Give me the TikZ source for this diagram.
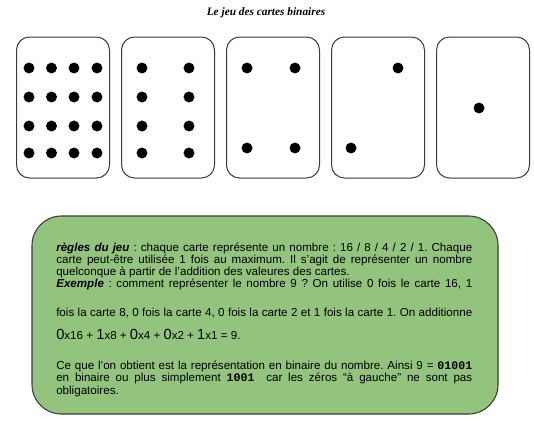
\documentclass[tikz,border=0pt]{standalone}
\usepackage{fontspec}
\setmainfont{Liberation Sans}
\setmonofont{Liberation Mono}
\newfontfamily\titrefont{Liberation Serif}
\usepackage{xcolor}
\usetikzlibrary{positioning}
\definecolor{vertcadre}{HTML}{93C47D}
\definecolor{grisbord}{HTML}{3A3A3A}
\newcommand{\justif}[1]{\makebox[312pt][s]{#1}}
\newcommand{\grand}[1]{{\fontsize{11pt}{12pt}\selectfont #1}}
\newcommand{\bin}[1]{\textbf{\texttt{#1}}}
\frenchspacing

\begin{document}
\begin{tikzpicture}[
    x=0.75pt, y=-0.75pt,
    carte/.style={rectangle, draw=grisbord, line width=0.75pt, rounded corners=9.75pt,
        minimum width=69.75pt, minimum height=105.75pt, inner sep=0},
    cadre/.style={rectangle, draw=grisbord, fill=vertcadre, line width=0.8pt,
        rounded corners=22pt, minimum width=349.5pt, minimum height=148.5pt, inner sep=0},
    ligne/.style={anchor=base west, inner sep=0, font=\fontsize{8.7pt}{10pt}\selectfont},
    point/.style={fill=black}]
\useasboundingbox (0,0) rectangle (534,426);

\node[anchor=base, inner sep=0, font=\titrefont\bfseries\itshape\fontsize{8.5pt}{9pt}\selectfont] (titre) at (266,15) {Le jeu des cartes binaires};

\node[carte] (carte16) at (63,107.5) {};
\node[carte, right=8.25pt of carte16] (carte8) {};
\node[carte, right=8.25pt of carte8] (carte4) {};
\node[carte, right=8.25pt of carte4] (carte2) {};
\node[carte, right=8.25pt of carte2] (carte1) {};

\foreach \x in {29,51.5,74,97}
  \foreach \y in {68,97,126,153}
    \path[point] (\x,\y) circle[radius=4.1pt];
\foreach \x in {142,189}
  \foreach \y in {68,97,126,153}
    \path[point] (\x,\y) circle[radius=4.1pt];
\foreach \x in {247,295}
  \foreach \y in {68,148}
    \path[point] (\x,\y) circle[radius=4.1pt];
\path[point] (398,68) circle[radius=4.1pt];
\path[point] (351,148) circle[radius=4.1pt];
\path[point] (479,108) circle[radius=4.1pt];

\node[cadre] (regles) at (265,315) {};

\node[ligne] (ligne1) at (56,251) {\justif{\textbf{\textit{règles du jeu}} : chaque carte représente un nombre : 16 / 8 / 4 / 2 / 1. Chaque}};
\node[ligne] (ligne2) at (56,263.3) {\justif{carte peut-être utilisée 1 fois au maximum. Il s'agit de représenter un nombre}};
\node[ligne] (ligne3) at (56,275.7) {quelconque à partir de l'addition des valeures des cartes.};
\node[ligne] (ligne4) at (56,287.8) {\justif{\textbf{\textit{Exemple}} : comment représenter le nombre 9 ? On utilise 0 fois le carte 16, 1}};
\node[ligne] (ligne5) at (56,316.7) {\justif{fois la carte 8, 0 fois la carte 4, 0 fois la carte 2 et 1 fois la carte 1. On additionne}};
\node[ligne] (ligne6) at (56,339) {\grand{0}x16 + \grand{1}x8 + \grand{0}x4 + \grand{0}x2 + \grand{1}x1 = 9.};
\node[ligne] (ligne7) at (56,369.3) {\justif{Ce que l’on obtient est la représentation en binaire du nombre. Ainsi 9 = \bin{01001}}};
\node[ligne] (ligne8) at (56,381.7) {\justif{en binaire ou plus simplement \bin{1001} \ car les zéros “à gauche” ne sont pas}};
\node[ligne] (ligne9) at (56,394) {obligatoires.};

\end{tikzpicture}
\end{document}
